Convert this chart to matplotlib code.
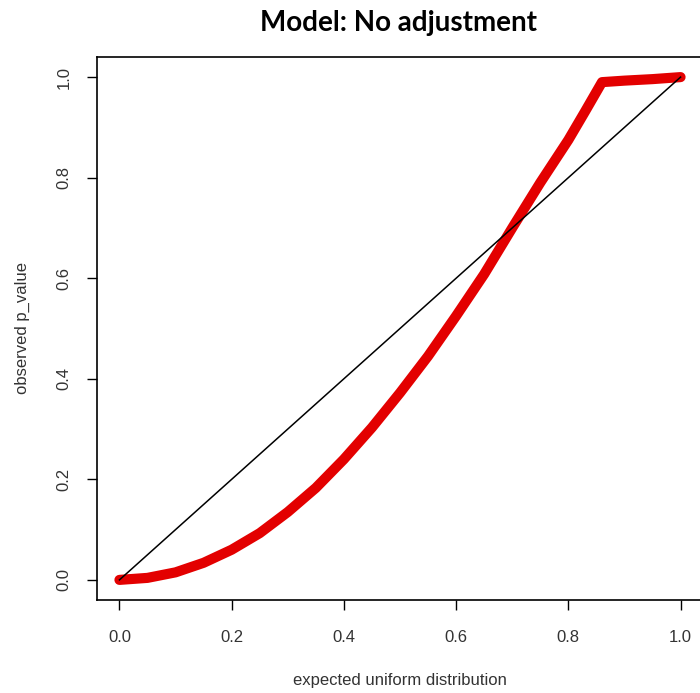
import numpy as np
import matplotlib.pyplot as plt

# expected uniform quantiles vs observed p-values
expected = [0.0, 0.05, 0.1, 0.15, 0.2, 0.25, 0.3, 0.35, 0.4, 0.45, 0.5,
            0.55, 0.6, 0.65, 0.7, 0.75, 0.8, 0.83, 0.86, 0.9, 0.95, 1.0]
observed = [0.0, 0.004, 0.015, 0.034, 0.06, 0.093, 0.135, 0.183, 0.24, 0.303, 0.372,
            0.445, 0.525, 0.608, 0.70, 0.79, 0.875, 0.932, 0.99, 0.993, 0.996, 1.0]
ref_line = [0.0, 1.0]
ticks = [0.0, 0.2, 0.4, 0.6, 0.8, 1.0]

plt.rcParams["font.family"] = ["Liberation Sans", "DejaVu Sans"]

fig = plt.figure(figsize=(7.0, 6.93), dpi=100)
ax = fig.add_axes([97 / 700, 93 / 693, 606 / 700, 543 / 693])

ax.plot(expected, observed, color="#e30000", lw=7.3, solid_capstyle="round",
        solid_joinstyle="round", zorder=2)
ax.plot(ref_line, ref_line, color="black", lw=1.1, zorder=3)

ax.set_xlim(-0.04, 1.04)
ax.set_ylim(-0.04, 1.04)
ax.set_xticks(ticks)
ax.set_yticks(ticks)
ax.set_xticklabels([f"{t:.1f}" for t in ticks])
ax.set_yticklabels([f"{t:.1f}" for t in ticks], rotation=90, va="center")
ax.tick_params(direction="out", length=7.5, width=1, labelsize=12, colors="black")
ax.tick_params(axis="x", pad=14)
ax.tick_params(axis="y", pad=11)
ax.tick_params(labelcolor="#333333")
for s in ax.spines.values():
    s.set_linewidth(1.2)

ax.set_xlabel("expected uniform distribution", fontsize=12, color="#333333", va="center")
ax.xaxis.set_label_coords(0.5, (600 - 681) / 543)
ax.set_ylabel("observed p_value", fontsize=12, color="#333333", va="center")
ax.yaxis.set_label_coords((22 - 97) / 606, 0.5)

fig.text(398 / 700, 1 - 23 / 693, "Model: No adjustment", ha="center", va="center",
         fontsize=20, fontweight="bold", family=["Lato", "DejaVu Sans"])

fig.savefig("out.png", dpi=100)
